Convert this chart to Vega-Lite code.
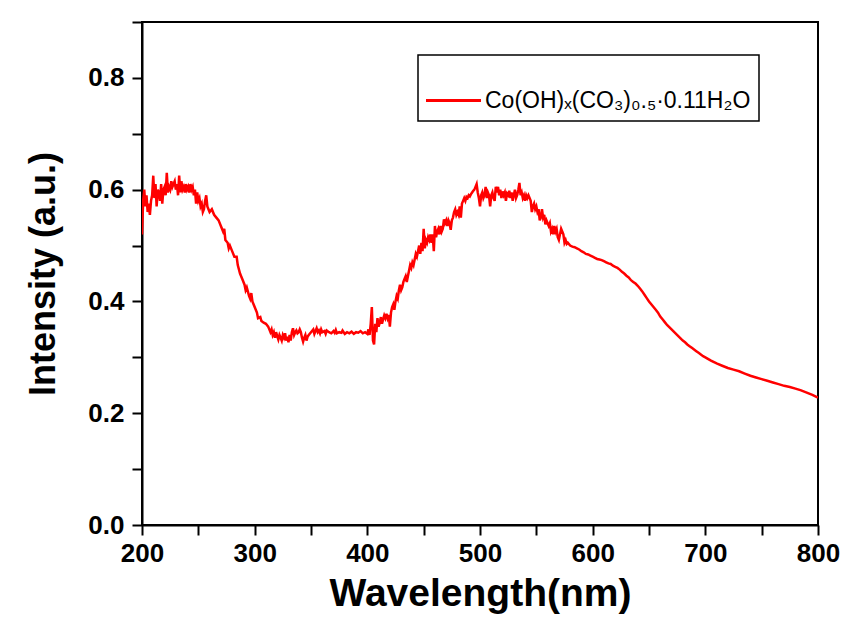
{
  "$schema": "https://vega.github.io/schema/vega-lite/v6.json",
  "width": 676,
  "height": 503,
  "autosize": {"type": "none"},
  "padding": {"left": 142, "top": 22, "right": 45, "bottom": 99},
  "background": "white",
  "config": {
    "view": {"stroke": "black", "strokeWidth": 2},
    "font": "Liberation Sans",
    "legend": {"strokeWidth": 1.5},
    "axis": {
      "grid": false,
      "domainColor": "black",
      "domainWidth": 2,
      "tickColor": "black",
      "tickWidth": 2,
      "labelFont": "Liberation Sans",
      "labelFontWeight": "bold",
      "labelFontSize": 26,
      "labelColor": "black",
      "titleFont": "Liberation Sans",
      "titleFontWeight": "bold",
      "titleColor": "black"
    }
  },
  "data": {
    "values": [
      {"w":200,"i":0.52},{"w":201,"i":0.58},{"w":202,"i":0.6},{"w":203,"i":0.57},{"w":204,"i":0.59},{"w":205,"i":0.56},{"w":206,"i":0.575},{"w":207,"i":0.555},{"w":208,"i":0.58},{"w":209,"i":0.59},
      {"w":210,"i":0.625},{"w":211,"i":0.585},{"w":212,"i":0.61},{"w":213,"i":0.57},{"w":214,"i":0.6},{"w":215,"i":0.595},{"w":216,"i":0.58},{"w":217,"i":0.61},{"w":218,"i":0.575},{"w":219,"i":0.6},
      {"w":220,"i":0.605},{"w":221,"i":0.59},{"w":222,"i":0.63},{"w":223,"i":0.595},{"w":224,"i":0.605},{"w":225,"i":0.6},{"w":226,"i":0.615},{"w":227,"i":0.605},{"w":228,"i":0.61},{"w":229,"i":0.615},
      {"w":230,"i":0.6},{"w":231,"i":0.61},{"w":232,"i":0.59},{"w":233,"i":0.625},{"w":234,"i":0.595},{"w":235,"i":0.615},{"w":236,"i":0.6},{"w":237,"i":0.605},{"w":238,"i":0.595},{"w":239,"i":0.61},
      {"w":240,"i":0.6},{"w":241,"i":0.605},{"w":242,"i":0.595},{"w":243,"i":0.61},{"w":244,"i":0.6},{"w":245,"i":0.605},{"w":246,"i":0.59},{"w":247,"i":0.6},{"w":248,"i":0.575},{"w":249,"i":0.595},
      {"w":250,"i":0.58},{"w":251,"i":0.585},{"w":252,"i":0.57},{"w":253,"i":0.575},{"w":254,"i":0.56},{"w":255,"i":0.565},{"w":256,"i":0.58},{"w":257,"i":0.59},{"w":258,"i":0.57},{"w":259,"i":0.565},
      {"w":260,"i":0.56},{"w":262,"i":0.565},{"w":264,"i":0.555},{"w":266,"i":0.55},{"w":268,"i":0.545},{"w":270,"i":0.535},{"w":272,"i":0.525},{"w":273,"i":0.53},{"w":274,"i":0.51},{"w":276,"i":0.505},
      {"w":277,"i":0.495},{"w":278,"i":0.5},{"w":280,"i":0.49},{"w":282,"i":0.48},{"w":284,"i":0.48},{"w":285,"i":0.465},{"w":287,"i":0.45},{"w":289,"i":0.44},{"w":291,"i":0.43},{"w":292,"i":0.42},
      {"w":293,"i":0.425},{"w":295,"i":0.41},{"w":296,"i":0.405},{"w":297,"i":0.415},{"w":298,"i":0.4},{"w":299,"i":0.395},{"w":300,"i":0.39},{"w":302,"i":0.38},{"w":303,"i":0.37},{"w":305,"i":0.372},
      {"w":306,"i":0.365},{"w":308,"i":0.362},{"w":310,"i":0.36},{"w":312,"i":0.355},{"w":313,"i":0.35},{"w":314,"i":0.345},{"w":315,"i":0.35},{"w":316,"i":0.34},{"w":317,"i":0.345},{"w":318,"i":0.335},
      {"w":319,"i":0.345},{"w":320,"i":0.338},{"w":321,"i":0.332},{"w":322,"i":0.34},{"w":323,"i":0.335},{"w":324,"i":0.33},{"w":325,"i":0.34},{"w":326,"i":0.335},{"w":327,"i":0.343},{"w":328,"i":0.33},
      {"w":329,"i":0.337},{"w":330,"i":0.327},{"w":331,"i":0.34},{"w":332,"i":0.33},{"w":333,"i":0.345},{"w":334,"i":0.352},{"w":335,"i":0.34},{"w":336,"i":0.345},{"w":337,"i":0.348},{"w":338,"i":0.343},
      {"w":339,"i":0.345},{"w":340,"i":0.35},{"w":341,"i":0.345},{"w":342,"i":0.335},{"w":343,"i":0.328},{"w":344,"i":0.335},{"w":345,"i":0.34},{"w":346,"i":0.33},{"w":347,"i":0.337},{"w":348,"i":0.34},
      {"w":350,"i":0.345},{"w":352,"i":0.35},{"w":353,"i":0.342},{"w":354,"i":0.347},{"w":355,"i":0.352},{"w":356,"i":0.345},{"w":357,"i":0.348},{"w":358,"i":0.343},{"w":359,"i":0.35},{"w":360,"i":0.345},
      {"w":362,"i":0.347},{"w":363,"i":0.342},{"w":364,"i":0.348},{"w":366,"i":0.345},{"w":368,"i":0.343},{"w":370,"i":0.347},{"w":371,"i":0.344},{"w":372,"i":0.349},{"w":373,"i":0.343},{"w":375,"i":0.345},
      {"w":377,"i":0.344},{"w":378,"i":0.348},{"w":380,"i":0.342},{"w":382,"i":0.345},{"w":384,"i":0.343},{"w":386,"i":0.346},{"w":388,"i":0.342},{"w":390,"i":0.345},{"w":392,"i":0.344},{"w":394,"i":0.347},
      {"w":396,"i":0.343},{"w":398,"i":0.345},{"w":400,"i":0.342},{"w":401,"i":0.35},{"w":402,"i":0.34},{"w":403,"i":0.36},{"w":404,"i":0.39},{"w":405,"i":0.33},{"w":406,"i":0.323},{"w":407,"i":0.36},
      {"w":408,"i":0.345},{"w":409,"i":0.37},{"w":410,"i":0.355},{"w":411,"i":0.362},{"w":412,"i":0.372},{"w":413,"i":0.36},{"w":414,"i":0.368},{"w":415,"i":0.375},{"w":416,"i":0.37},{"w":417,"i":0.378},
      {"w":418,"i":0.37},{"w":419,"i":0.376},{"w":420,"i":0.355},{"w":421,"i":0.38},{"w":422,"i":0.39},{"w":423,"i":0.395},{"w":424,"i":0.385},{"w":425,"i":0.4},{"w":426,"i":0.41},{"w":427,"i":0.405},
      {"w":428,"i":0.42},{"w":429,"i":0.43},{"w":430,"i":0.42},{"w":431,"i":0.425},{"w":432,"i":0.435},{"w":433,"i":0.44},{"w":434,"i":0.445},{"w":435,"i":0.435},{"w":436,"i":0.445},{"w":437,"i":0.455},
      {"w":438,"i":0.465},{"w":439,"i":0.46},{"w":440,"i":0.47},{"w":441,"i":0.465},{"w":442,"i":0.475},{"w":443,"i":0.485},{"w":444,"i":0.48},{"w":445,"i":0.49},{"w":446,"i":0.5},{"w":447,"i":0.485},
      {"w":448,"i":0.505},{"w":449,"i":0.49},{"w":450,"i":0.53},{"w":451,"i":0.495},{"w":452,"i":0.51},{"w":453,"i":0.505},{"w":454,"i":0.515},{"w":455,"i":0.51},{"w":456,"i":0.52},{"w":457,"i":0.505},
      {"w":458,"i":0.52},{"w":459,"i":0.49},{"w":460,"i":0.535},{"w":461,"i":0.515},{"w":462,"i":0.525},{"w":463,"i":0.53},{"w":464,"i":0.52},{"w":465,"i":0.535},{"w":466,"i":0.525},{"w":467,"i":0.53},
      {"w":468,"i":0.547},{"w":469,"i":0.54},{"w":470,"i":0.545},{"w":471,"i":0.535},{"w":472,"i":0.545},{"w":473,"i":0.54},{"w":474,"i":0.528},{"w":475,"i":0.545},{"w":476,"i":0.55},{"w":477,"i":0.56},
      {"w":478,"i":0.565},{"w":479,"i":0.555},{"w":480,"i":0.56},{"w":481,"i":0.555},{"w":482,"i":0.57},{"w":483,"i":0.55},{"w":484,"i":0.575},{"w":485,"i":0.58},{"w":486,"i":0.585},{"w":487,"i":0.58},
      {"w":488,"i":0.587},{"w":489,"i":0.585},{"w":490,"i":0.59},{"w":491,"i":0.588},{"w":492,"i":0.592},{"w":493,"i":0.595},{"w":494,"i":0.598},{"w":495,"i":0.6},{"w":496,"i":0.605},{"w":497,"i":0.61},
      {"w":498,"i":0.595},{"w":499,"i":0.585},{"w":500,"i":0.57},{"w":501,"i":0.59},{"w":502,"i":0.595},{"w":503,"i":0.585},{"w":504,"i":0.59},{"w":505,"i":0.605},{"w":506,"i":0.585},{"w":507,"i":0.595},
      {"w":508,"i":0.59},{"w":509,"i":0.57},{"w":510,"i":0.59},{"w":511,"i":0.595},{"w":512,"i":0.585},{"w":513,"i":0.58},{"w":514,"i":0.605},{"w":515,"i":0.595},{"w":516,"i":0.605},{"w":517,"i":0.59},
      {"w":518,"i":0.6},{"w":519,"i":0.585},{"w":520,"i":0.597},{"w":521,"i":0.59},{"w":522,"i":0.595},{"w":523,"i":0.58},{"w":524,"i":0.593},{"w":525,"i":0.59},{"w":526,"i":0.598},{"w":527,"i":0.585},
      {"w":528,"i":0.595},{"w":529,"i":0.58},{"w":530,"i":0.59},{"w":531,"i":0.6},{"w":532,"i":0.585},{"w":533,"i":0.59},{"w":534,"i":0.6},{"w":535,"i":0.612},{"w":536,"i":0.59},{"w":537,"i":0.595},
      {"w":538,"i":0.585},{"w":539,"i":0.59},{"w":540,"i":0.58},{"w":541,"i":0.59},{"w":542,"i":0.585},{"w":543,"i":0.59},{"w":544,"i":0.585},{"w":545,"i":0.58},{"w":546,"i":0.56},{"w":547,"i":0.57},
      {"w":548,"i":0.575},{"w":549,"i":0.565},{"w":550,"i":0.57},{"w":551,"i":0.56},{"w":552,"i":0.565},{"w":553,"i":0.545},{"w":554,"i":0.55},{"w":555,"i":0.565},{"w":556,"i":0.55},{"w":557,"i":0.555},
      {"w":558,"i":0.538},{"w":559,"i":0.545},{"w":560,"i":0.54},{"w":561,"i":0.535},{"w":562,"i":0.54},{"w":563,"i":0.525},{"w":564,"i":0.53},{"w":565,"i":0.52},{"w":566,"i":0.535},{"w":567,"i":0.525},
      {"w":568,"i":0.53},{"w":569,"i":0.515},{"w":570,"i":0.51},{"w":571,"i":0.52},{"w":572,"i":0.53},{"w":573,"i":0.525},{"w":574,"i":0.52},{"w":575,"i":0.505},{"w":576,"i":0.51},{"w":577,"i":0.503},
      {"w":578,"i":0.505},{"w":580,"i":0.5},{"w":582,"i":0.498},{"w":584,"i":0.497},{"w":586,"i":0.495},{"w":588,"i":0.493},{"w":590,"i":0.49},{"w":592,"i":0.488},{"w":594,"i":0.485},{"w":596,"i":0.484},
      {"w":598,"i":0.482},{"w":600,"i":0.48},{"w":602,"i":0.478},{"w":604,"i":0.476},{"w":606,"i":0.475},{"w":608,"i":0.474},{"w":610,"i":0.472},{"w":612,"i":0.47},{"w":614,"i":0.468},{"w":616,"i":0.467},
      {"w":618,"i":0.464},{"w":620,"i":0.462},{"w":622,"i":0.46},{"w":624,"i":0.457},{"w":626,"i":0.453},{"w":628,"i":0.45},{"w":630,"i":0.446},{"w":632,"i":0.443},{"w":634,"i":0.438},{"w":636,"i":0.435},
      {"w":638,"i":0.432},{"w":640,"i":0.428},{"w":642,"i":0.423},{"w":644,"i":0.418},{"w":646,"i":0.412},{"w":648,"i":0.406},{"w":650,"i":0.4},{"w":652,"i":0.395},{"w":654,"i":0.39},{"w":656,"i":0.385},
      {"w":658,"i":0.38},{"w":660,"i":0.373},{"w":662,"i":0.368},{"w":664,"i":0.363},{"w":666,"i":0.358},{"w":668,"i":0.354},{"w":670,"i":0.35},{"w":672,"i":0.346},{"w":674,"i":0.342},{"w":676,"i":0.338},
      {"w":678,"i":0.334},{"w":680,"i":0.33},{"w":682,"i":0.327},{"w":684,"i":0.323},{"w":686,"i":0.32},{"w":688,"i":0.317},{"w":690,"i":0.314},{"w":692,"i":0.311},{"w":694,"i":0.308},{"w":696,"i":0.305},
      {"w":698,"i":0.302},{"w":700,"i":0.3},{"w":705,"i":0.294},{"w":710,"i":0.289},{"w":715,"i":0.285},{"w":720,"i":0.281},{"w":725,"i":0.278},{"w":730,"i":0.275},{"w":735,"i":0.271},{"w":740,"i":0.267},
      {"w":745,"i":0.264},{"w":750,"i":0.261},{"w":755,"i":0.258},{"w":760,"i":0.255},{"w":765,"i":0.252},{"w":770,"i":0.249},{"w":775,"i":0.247},{"w":780,"i":0.244},{"w":785,"i":0.241},{"w":790,"i":0.237},
      {"w":795,"i":0.233},{"w":800,"i":0.228}
    ]
  },
  "mark": {"type": "line", "strokeWidth": 2.5, "clip": true},
  "encoding": {
    "x": {
      "field": "w",
      "type": "quantitative",
      "scale": {"domain": [200, 800], "nice": false},
      "axis": {
        "title": "Wavelength(nm)",
        "titleFontSize": 39,
        "titlePadding": 8,
        "values": [200, 250, 300, 350, 400, 450, 500, 550, 600, 650, 700, 750, 800],
        "labelExpr": "datum.value % 100 === 0 ? datum.label : ''",
        "tickSize": 10,
        "encode": {"ticks": {"update": {"y2": {"signal": "datum.value % 100 === 0 ? 10 : 5"}}}},
        "labelPadding": 5,
        "labelFlush": false,
        "labelOverlap": false
      }
    },
    "y": {
      "field": "i",
      "type": "quantitative",
      "scale": {"domain": [0, 0.9], "nice": false},
      "axis": {
        "title": "Intensity (a.u.)",
        "titleFontSize": 36,
        "titlePadding": 25,
        "values": [0, 0.1, 0.2, 0.3, 0.4, 0.5, 0.6, 0.7, 0.8, 0.9],
        "labelExpr": "round(datum.value * 10) % 2 === 0 ? format(datum.value, '.1f') : ''",
        "tickSize": 10,
        "encode": {"ticks": {"update": {"x2": {"signal": "round(datum.value * 10) % 2 === 0 ? -10 : -5"}}}},
        "labelPadding": 8,
        "labelFlush": false,
        "labelOverlap": false
      }
    },
    "color": {
      "datum": "Co(OH)ₓ(CO₃)₀.₅·0.11H₂O",
      "type": "nominal",
      "scale": {"range": ["#ff0000"]},
      "legend": {
        "title": " ",
        "titleFontSize": 20,
        "titlePadding": 6,
        "orient": "none",
        "legendX": 276,
        "legendY": 33,
        "padding": 8,
        "strokeColor": "black",
        "fillColor": "white",
        "symbolType": "M-5,0H5",
        "symbolSize": 121,
        "symbolStrokeWidth": 3,
        "symbolOffset": 16,
        "labelFont": "Liberation Sans",
        "labelFontSize": 23,
        "labelColor": "black",
        "labelOffset": 20,
        "labelLimit": 0
      }
    }
  }
}
